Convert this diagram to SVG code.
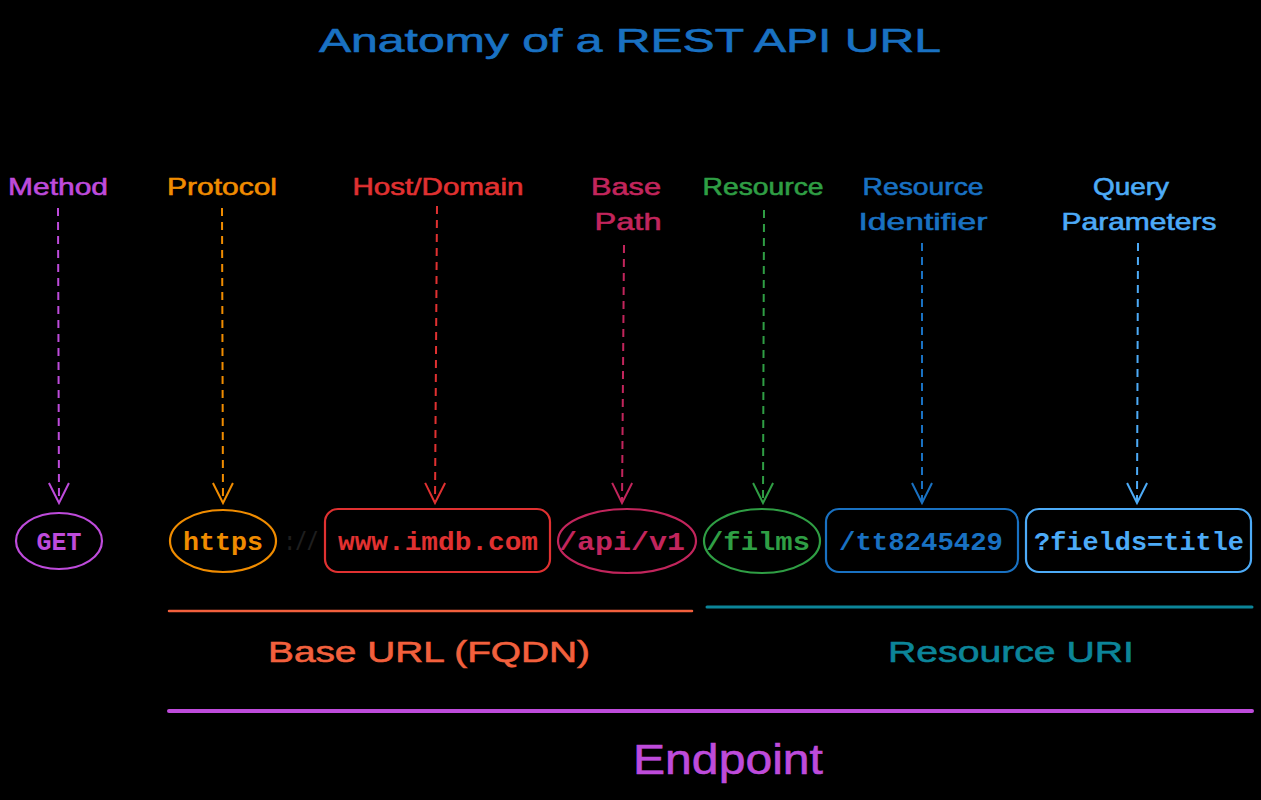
<svg xmlns="http://www.w3.org/2000/svg" width="1261" height="800" viewBox="0 0 1261 800">
  <defs>
    <style>
      .hand { font-family: "Liberation Sans", "DejaVu Sans", sans-serif; text-anchor: middle; stroke-width: 0.6; paint-order: stroke; }
      .lbl { font-size: 24px; }
      .code { font-family: "Liberation Mono", "DejaVu Sans Mono", monospace; font-weight: bold; font-size: 26px; text-anchor: middle; }
      .shape { fill: none; stroke-width: 2.2; }
      .conn { fill: none; stroke-width: 2; stroke-dasharray: 8 6; }
      .span { fill: none; stroke-linecap: round; }
    </style>
    <marker id="ah-purple" viewBox="-22 -11 24 22" markerWidth="24" markerHeight="22" refX="0" refY="0" orient="auto" markerUnits="userSpaceOnUse">
      <polyline points="-20,-10 0,0 -20,10" fill="none" stroke="#be4bdb" stroke-width="2"/>
    </marker>
    <marker id="ah-orange" viewBox="-22 -11 24 22" markerWidth="24" markerHeight="22" refX="0" refY="0" orient="auto" markerUnits="userSpaceOnUse">
      <polyline points="-20,-10 0,0 -20,10" fill="none" stroke="#f08c00" stroke-width="2"/>
    </marker>
    <marker id="ah-red" viewBox="-22 -11 24 22" markerWidth="24" markerHeight="22" refX="0" refY="0" orient="auto" markerUnits="userSpaceOnUse">
      <polyline points="-20,-10 0,0 -20,10" fill="none" stroke="#e03131" stroke-width="2"/>
    </marker>
    <marker id="ah-pink" viewBox="-22 -11 24 22" markerWidth="24" markerHeight="22" refX="0" refY="0" orient="auto" markerUnits="userSpaceOnUse">
      <polyline points="-20,-10 0,0 -20,10" fill="none" stroke="#c2255c" stroke-width="2"/>
    </marker>
    <marker id="ah-green" viewBox="-22 -11 24 22" markerWidth="24" markerHeight="22" refX="0" refY="0" orient="auto" markerUnits="userSpaceOnUse">
      <polyline points="-20,-10 0,0 -20,10" fill="none" stroke="#2f9e44" stroke-width="2"/>
    </marker>
    <marker id="ah-blue" viewBox="-22 -11 24 22" markerWidth="24" markerHeight="22" refX="0" refY="0" orient="auto" markerUnits="userSpaceOnUse">
      <polyline points="-20,-10 0,0 -20,10" fill="none" stroke="#1971c2" stroke-width="2"/>
    </marker>
    <marker id="ah-sky" viewBox="-22 -11 24 22" markerWidth="24" markerHeight="22" refX="0" refY="0" orient="auto" markerUnits="userSpaceOnUse">
      <polyline points="-20,-10 0,0 -20,10" fill="none" stroke="#4dabf7" stroke-width="2"/>
    </marker>
  </defs>

  <rect width="1261" height="800" fill="#000000"/>

  <!-- heading -->
  <text id="title" class="hand" x="630" y="52" font-size="34" fill="#1971c2" stroke="#1971c2" textLength="622" lengthAdjust="spacingAndGlyphs">Anatomy of a REST API URL</text>

  <!-- part labels -->
  <g id="label-method"><text class="hand lbl" x="58" y="195" fill="#be4bdb" stroke="#be4bdb" textLength="100" lengthAdjust="spacingAndGlyphs">Method</text></g>
  <g id="label-protocol"><text class="hand lbl" x="222" y="195" fill="#f08c00" stroke="#f08c00" textLength="110" lengthAdjust="spacingAndGlyphs">Protocol</text></g>
  <g id="label-host"><text class="hand lbl" x="438" y="195" fill="#e03131" stroke="#e03131" textLength="171" lengthAdjust="spacingAndGlyphs">Host/Domain</text></g>
  <g id="label-basepath">
    <text class="hand lbl" x="626" y="195" fill="#c2255c" stroke="#c2255c" textLength="70" lengthAdjust="spacingAndGlyphs">Base</text>
    <text class="hand lbl" x="628" y="230" fill="#c2255c" stroke="#c2255c" textLength="67" lengthAdjust="spacingAndGlyphs">Path</text>
  </g>
  <g id="label-resource"><text class="hand lbl" x="763" y="195" fill="#2f9e44" stroke="#2f9e44" textLength="121" lengthAdjust="spacingAndGlyphs">Resource</text></g>
  <g id="label-resource-id">
    <text class="hand lbl" x="923" y="195" fill="#1971c2" stroke="#1971c2" textLength="121" lengthAdjust="spacingAndGlyphs">Resource</text>
    <text class="hand lbl" x="923" y="230" fill="#1971c2" stroke="#1971c2" textLength="129" lengthAdjust="spacingAndGlyphs">Identifier</text>
  </g>
  <g id="label-query">
    <text class="hand lbl" x="1131" y="195" fill="#4dabf7" stroke="#4dabf7" textLength="76" lengthAdjust="spacingAndGlyphs">Query</text>
    <text class="hand lbl" x="1139" y="230" fill="#4dabf7" stroke="#4dabf7" textLength="155" lengthAdjust="spacingAndGlyphs">Parameters</text>
  </g>

  <!-- URL parts -->
  <g id="node-get">
    <ellipse class="shape" cx="59" cy="541" rx="43" ry="28" stroke="#be4bdb"/>
    <text class="code" x="59" y="550" fill="#be4bdb" textLength="45" lengthAdjust="spacingAndGlyphs">GET</text>
  </g>
  <g id="node-https">
    <ellipse class="shape" cx="223" cy="541" rx="53" ry="31" stroke="#f08c00"/>
    <text class="code" x="223" y="550" fill="#f08c00" textLength="80" lengthAdjust="spacingAndGlyphs">https</text>
  </g>
  <g id="node-separator">
    <text class="code" x="301" y="550" fill="#1e1e1e" textLength="34" lengthAdjust="spacingAndGlyphs">://</text>
  </g>
  <g id="node-host">
    <rect class="shape" x="325" y="509" width="225" height="63" rx="13" stroke="#e03131"/>
    <text class="code" x="438" y="550" fill="#e03131" textLength="200" lengthAdjust="spacingAndGlyphs">www.imdb.com</text>
  </g>
  <g id="node-basepath">
    <ellipse class="shape" cx="627" cy="541" rx="69" ry="32" stroke="#c2255c"/>
    <text class="code" x="622" y="550" fill="#c2255c" textLength="126" lengthAdjust="spacingAndGlyphs">/api/v1</text>
  </g>
  <g id="node-resource">
    <ellipse class="shape" cx="762" cy="541" rx="58" ry="32" stroke="#2f9e44"/>
    <text class="code" x="758" y="550" fill="#2f9e44" textLength="104" lengthAdjust="spacingAndGlyphs">/films</text>
  </g>
  <g id="node-resource-id">
    <rect class="shape" x="826" y="509" width="192" height="63" rx="13" stroke="#1971c2"/>
    <text class="code" x="921" y="550" fill="#1971c2" textLength="164" lengthAdjust="spacingAndGlyphs">/tt8245429</text>
  </g>
  <g id="node-query">
    <rect class="shape" x="1026" y="509" width="225" height="63" rx="13" stroke="#4dabf7"/>
    <text class="code" x="1139" y="550" fill="#4dabf7" textLength="210" lengthAdjust="spacingAndGlyphs">?fields=title</text>
  </g>

  <!-- connectors: label to URL part -->
  <g id="connectors">
    <line class="conn" x1="58" y1="208" x2="59" y2="503" stroke="#be4bdb" marker-end="url(#ah-purple)"/>
    <line class="conn" x1="222" y1="208" x2="223" y2="503" stroke="#f08c00" marker-end="url(#ah-orange)"/>
    <line class="conn" x1="437" y1="206" x2="435" y2="503" stroke="#e03131" marker-end="url(#ah-red)"/>
    <line class="conn" x1="624" y1="245" x2="622" y2="503" stroke="#c2255c" marker-end="url(#ah-pink)"/>
    <line class="conn" x1="764" y1="210" x2="763" y2="503" stroke="#2f9e44" stroke-dasharray="5 5" marker-end="url(#ah-green)"/>
    <line class="conn" x1="922" y1="243" x2="922" y2="503" stroke="#1971c2" marker-end="url(#ah-blue)"/>
    <line class="conn" x1="1138" y1="243" x2="1137" y2="503" stroke="#4dabf7" marker-end="url(#ah-sky)"/>
  </g>

  <!-- groupings -->
  <g id="span-base-url">
    <line class="span" x1="169" y1="611" x2="692" y2="611" stroke="#f2603d" stroke-width="2.5"/>
    <text class="hand" x="429" y="662" font-size="30" fill="#f2603d" stroke="#f2603d" textLength="322" lengthAdjust="spacingAndGlyphs">Base URL (FQDN)</text>
  </g>
  <g id="span-resource-uri">
    <line class="span" x1="707" y1="607" x2="1252" y2="607" stroke="#0c8599" stroke-width="3"/>
    <text class="hand" x="1011" y="662" font-size="30" fill="#0c8599" stroke="#0c8599" textLength="246" lengthAdjust="spacingAndGlyphs">Resource URI</text>
  </g>
  <g id="span-endpoint">
    <line class="span" x1="169" y1="711" x2="1252" y2="711" stroke="#be4bdb" stroke-width="4"/>
    <text class="hand" x="728" y="774" font-size="42" fill="#be4bdb" stroke="#be4bdb" textLength="190" lengthAdjust="spacingAndGlyphs">Endpoint</text>
  </g>
</svg>
